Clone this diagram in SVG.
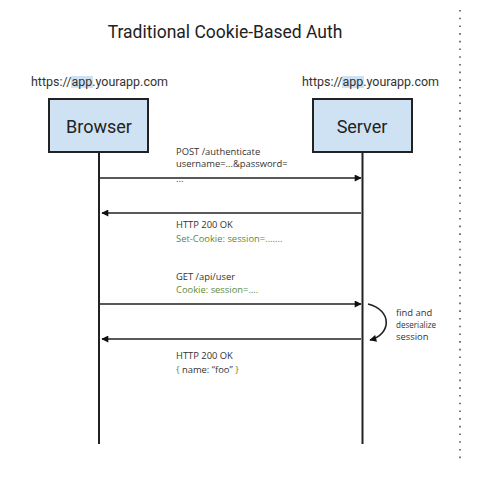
<svg xmlns="http://www.w3.org/2000/svg" width="497" height="480" viewBox="0 0 497 480">
<style>
.title{font-family:Roboto,"Liberation Sans",sans-serif;font-size:17.5px;fill:#222}
.url{font-family:Roboto,"Liberation Sans",sans-serif;font-size:12px;fill:#333}
.box{fill:#cfe2f3;stroke:#222;stroke-width:2}
.boxt{font-family:Roboto,"Liberation Sans",sans-serif;font-size:18px;fill:#222;text-anchor:middle}
.lbl{font-family:"Open Sans","Liberation Sans",sans-serif;font-size:9.4px;fill:#333}
.grn{fill:#5e8a3c}
.life{stroke:#222;stroke-width:2}
.msg{stroke:#222;stroke-width:1.6;fill:none}
.hl{fill:#cfe2f3}
</style>
<defs>
<marker id="ah" viewBox="0 0 10 10" refX="9" refY="5" markerWidth="9" markerHeight="7" markerUnits="userSpaceOnUse" orient="auto"><path d="M0,0 L10,5 L0,10 z" fill="#111"/></marker>
<marker id="ah2" viewBox="0 0 10 10" refX="9" refY="5" markerWidth="8" markerHeight="7" markerUnits="userSpaceOnUse" orient="auto"><path d="M0,0 L10,5 L0,10 z" fill="#111"/></marker>
</defs>
<rect width="497" height="480" fill="#fff"/>
<text class="title" x="225" y="38" text-anchor="middle">Traditional Cookie-Based Auth</text>
<line x1="460" y1="10" x2="460" y2="462" stroke="#555" stroke-width="1.6" stroke-dasharray="1.6 6.1"/>
<g id="browser">
<rect class="hl" x="71" y="76" width="22" height="12"/>
<text class="url" x="31" y="86" textLength="137" lengthAdjust="spacingAndGlyphs">https://app.yourapp.com</text>
<rect class="box" x="49" y="99" width="99" height="53"/>
<text class="boxt" x="99" y="133">Browser</text>
</g>
<g id="server">
<rect class="hl" x="342" y="76" width="22" height="12"/>
<text class="url" x="302" y="86" textLength="137" lengthAdjust="spacingAndGlyphs">https://app.yourapp.com</text>
<rect class="box" x="313" y="99" width="99" height="53"/>
<text class="boxt" x="362" y="133">Server</text>
</g>
<g id="connectors">
<line class="life" x1="99" y1="153" x2="99" y2="444"/>
<line class="life" x1="362.5" y1="153" x2="362.5" y2="444"/>
<line class="msg" x1="99" y1="178" x2="361" y2="178" marker-end="url(#ah)"/>
<line class="msg" x1="361" y1="213" x2="102" y2="213" marker-end="url(#ah)"/>
<line class="msg" x1="99" y1="304" x2="361" y2="304" marker-end="url(#ah)"/>
<line class="msg" x1="361" y1="339" x2="102" y2="339" marker-end="url(#ah)"/>
<path class="msg" d="M368,304 C392,310 392,334 370,340" marker-end="url(#ah2)"/>
</g>
<g id="labels">
<text class="lbl" x="176" y="155">POST /authenticate</text>
<text class="lbl" x="176" y="167">username=...&amp;password=</text>
<text class="lbl" x="176" y="182">...</text>
<text class="lbl" x="176" y="228">HTTP 200 OK</text>
<text class="lbl grn" x="176" y="242">Set-Cookie: session=.......</text>
<text class="lbl" x="176" y="280">GET /api/user</text>
<text class="lbl grn" x="176" y="293">Cookie: session=....</text>
<text class="lbl" x="396" y="316">find and</text>
<text class="lbl" x="396" y="328" textLength="40" lengthAdjust="spacingAndGlyphs">deserialize</text>
<text class="lbl" x="396" y="340">session</text>
<text class="lbl" x="176" y="359">HTTP 200 OK</text>
<text class="lbl" x="176" y="373"><tspan class="grn">{</tspan> name: “foo” <tspan class="grn">}</tspan></text>
</g>
</svg>
